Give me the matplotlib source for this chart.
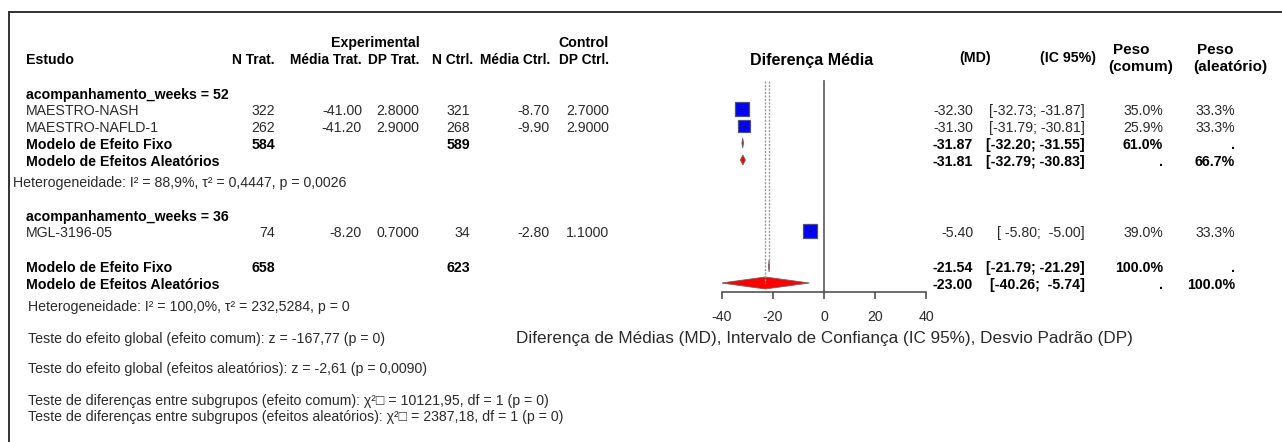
import matplotlib
matplotlib.use("Agg")
import numpy as np
import matplotlib.pyplot as plt
from matplotlib.patches import Polygon

plt.rcParams['font.family'] = ['Liberation Sans', 'DejaVu Sans']

# ---- data ----
studies = ['MAESTRO-NASH', 'MAESTRO-NAFLD-1', 'MGL-3196-05']
n_trat = [322, 262, 74]
media_trat = [-41.00, -41.20, -8.20]
dp_trat = [2.8, 2.9, 0.7]
n_ctrl = [321, 268, 34]
media_ctrl = [-8.70, -9.90, -2.80]
dp_ctrl = [2.7, 2.9, 1.1]
md = [-32.30, -31.30, -5.40]
ci_lo = [-32.73, -31.79, -5.80]
ci_hi = [-31.87, -30.81, -5.00]
w_comum = [35.0, 25.9, 39.0]
w_aleat = [33.3, 33.3, 33.3]

# subgroup 52 weeks: fixed, random
sub_n_trat = 584
sub_n_ctrl = 589
sub_md = [-31.87, -31.81]
sub_lo = [-32.20, -32.79]
sub_hi = [-31.55, -30.83]
sub_w_comum = ['61.0%', '.']
sub_w_aleat = ['.', '66.7%']

# overall: fixed, random
tot_n_trat = 658
tot_n_ctrl = 623
tot_md = [-21.54, -23.00]
tot_lo = [-21.79, -40.26]
tot_hi = [-21.29, -5.74]
tot_w_comum = ['100.0%', '.']
tot_w_aleat = ['.', '100.0%']

xticks = [-40, -20, 0, 20, 40]

het1 = 'Heterogeneidade: I² = 88,9%, τ² = 0,4447, p = 0,0026'
het2 = 'Heterogeneidade: I² = 100,0%, τ² = 232,5284, p = 0'
tests = ['Teste do efeito global (efeito comum): z = -167,77 (p = 0)',
         'Teste do efeito global (efeitos aleatórios): z = -2,61 (p = 0,0090)',
         'Teste de diferenças entre subgrupos (efeito comum): χ²□ = 10121,95, df = 1 (p = 0)',
         'Teste de diferenças entre subgrupos (efeitos aleatórios): χ²□ = 2387,18, df = 1 (p = 0)']
xlab = 'Diferença de Médias (MD), Intervalo de Confiança (IC 95%), Desvio Padrão (DP)'

# ---- layout (pixel rows) ----
W, H = 1282, 442
y_lab1, y_lab2 = 43, 60
y_g1 = 93
y_rows = [109, 126, 231]
y_sub = [143, 160]
y_het1 = 183
y_g2 = 215
y_tot = [266, 283]
y_het2 = 307
y_tests = [339, 369, 401, 417]
y_axis = 292

FS = 10.2
DARK = '#2a2a2a'
dy = 2  # text sits a touch below the marks

fig = plt.figure(figsize=(W / 100, H / 100), dpi=100)
ax = fig.add_axes([0, 0, 1, 1])
ax.set_xlim(0, W)
ax.set_ylim(H, 0)
ax.axis('off')

# frame
ax.plot([9, W], [12, 12], color='#333333', lw=1.4)
ax.plot([9, 9], [12, H], color='#333333', lw=1.4)


def t(x, y, s, ha='left', bold=False, size=FS, color=None):
    ax.text(x, y, s, ha=ha, va='center', fontsize=size,
            fontweight='bold' if bold else 'normal',
            color=color or ('black' if bold else DARK))


# left headers
t(420, y_lab1, 'Experimental', ha='right', bold=True)
t(609, y_lab1, 'Control', ha='right', bold=True)
t(26, y_lab2, 'Estudo', bold=True)
for xr, s in zip([275, 362, 419, 473, 550, 609],
                 ['N Trat.', 'Média Trat.', 'DP Trat.', 'N Ctrl.', 'Média Ctrl.', 'DP Ctrl.']):
    t(xr, y_lab2, s, ha='right', bold=True, size=9.9)

# right headers
t(812, 61, 'Diferença Média', ha='center', bold=True, size=11.5)
t(975, 58, '(MD)', ha='center', bold=True)
t(1068, 58, '(IC 95%)', ha='center', bold=True)
t(1113, 50, 'Peso', bold=True, size=11)
t(1108, 67, '(comum)', bold=True, size=11)
t(1197, 50, 'Peso', bold=True, size=11)
t(1193, 67, '(aleatório)', bold=True, size=11)

# group labels
t(26, y_g1 + dy, 'acompanhamento_weeks = 52', bold=True)
t(26, y_g2 + dy, 'acompanhamento_weeks = 36', bold=True)


def ci_text(lo, hi):
    return '[%s; %s]' % (('%.2f' % lo).rjust(6), ('%.2f' % hi).rjust(6))


# study rows
for i, y in enumerate(y_rows):
    y = y + dy
    t(26, y, studies[i])
    t(275, y, str(n_trat[i]), ha='right')
    t(362, y, '%.2f' % media_trat[i], ha='right')
    t(419, y, '%.4f' % dp_trat[i], ha='right')
    t(470, y, str(n_ctrl[i]), ha='right')
    t(550, y, '%.2f' % media_ctrl[i], ha='right')
    t(609, y, '%.4f' % dp_ctrl[i], ha='right')
    t(973, y, '%.2f' % md[i], ha='right')
    t(1085, y, ci_text(ci_lo[i], ci_hi[i]), ha='right')
    t(1163, y, '%.1f%%' % w_comum[i], ha='right')
    t(1235, y, '%.1f%%' % w_aleat[i], ha='right')

# summary rows
labels_sum = ['Modelo de Efeito Fixo', 'Modelo de Efeitos Aleatórios']
for rows, nt, nc, m, lo_, hi_, wc, wa in [
        (y_sub, sub_n_trat, sub_n_ctrl, sub_md, sub_lo, sub_hi, sub_w_comum, sub_w_aleat),
        (y_tot, tot_n_trat, tot_n_ctrl, tot_md, tot_lo, tot_hi, tot_w_comum, tot_w_aleat)]:
    r = [v + dy for v in rows]
    t(26, r[0], labels_sum[0], bold=True)
    t(26, r[1], labels_sum[1], bold=True)
    t(275, r[0], str(nt), ha='right', bold=True)
    t(470, r[0], str(nc), ha='right', bold=True)
    for k in range(2):
        t(973, r[k], '%.2f' % m[k], ha='right', bold=True)
        t(1085, r[k], ci_text(lo_[k], hi_[k]), ha='right', bold=True)
        t(1163, r[k], wc[k], ha='right', bold=True)
        t(1235, r[k], wa[k], ha='right', bold=True)

t(13, y_het1, het1)
t(28, y_het2, het2)
for y, s in zip(y_tests, tests):
    t(28, y, s)

# ---- forest ----
af = fig.add_axes([722 / W, 0, 204 / W, 1])
af.set_xlim(-40, 40)
af.set_ylim(H, 0)
af.patch.set_alpha(0)
for sp in ['top', 'left', 'right']:
    af.spines[sp].set_visible(False)
af.spines['bottom'].set_position(('data', y_axis))
af.spines['bottom'].set_bounds(-40, 40)
af.spines['bottom'].set_color('#444444')
af.spines['bottom'].set_linewidth(1.1)
af.set_yticks([])
af.set_xticks(xticks)
af.set_xticklabels([str(v) for v in xticks])
af.tick_params(axis='x', direction='out', length=5, width=1.1, color='#444444',
               labelsize=FS, pad=8, labelcolor=DARK)

af.plot([0, 0], [81, y_axis], color='#666666', lw=1.3)
af.plot([tot_md[0]] * 2, [81, y_tot[0]], color='#9a9a9a', lw=1, ls=(0, (1.5, 1)))
af.plot([tot_md[1]] * 2, [81, y_tot[1]], color='#9a9a9a', lw=1, ls=(0, (1.5, 1)))

for i, y in enumerate(y_rows):
    side = 2.37 * np.sqrt(w_comum[i])
    af.plot([md[i]], [y], marker='s', ms=side * 0.72, mfc='#0000FF', mec='#555555', mew=0.9)
    af.plot([ci_lo[i], ci_hi[i]], [y, y], color='black', lw=0.8)


def diamond(m, lo, hi, y, h):
    af.add_patch(Polygon([[lo, y], [m, y - h / 2], [hi, y], [m, y + h / 2]],
                         closed=True, facecolor='#FF0000', edgecolor='#666666', lw=0.6))


for k in range(2):
    diamond(sub_md[k], sub_lo[k], sub_hi[k], y_sub[k], 10)
    diamond(tot_md[k], tot_lo[k], tot_hi[k], y_tot[k], 12)

af.text(0, y_tests[0], xlab, ha='center', va='center', fontsize=12.3, color=DARK, clip_on=False)

fig.savefig('out.png', dpi=100)
